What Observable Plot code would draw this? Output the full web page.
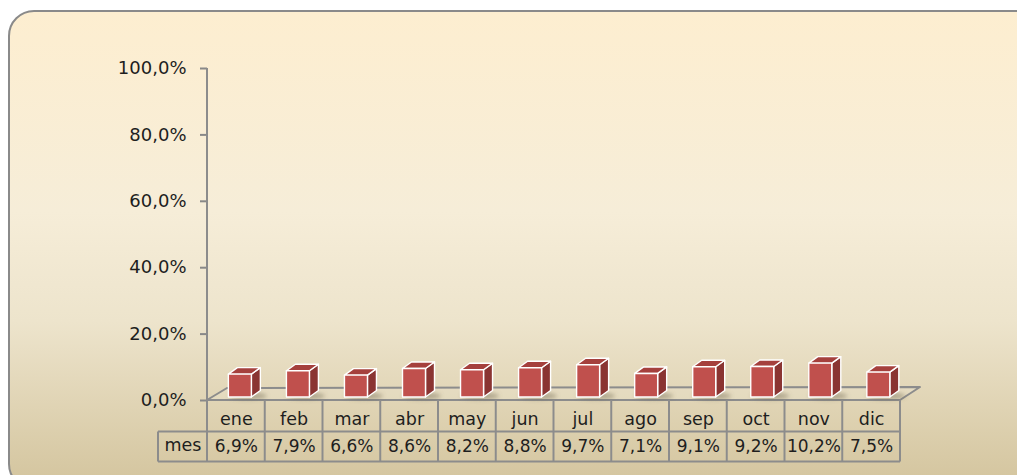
<!DOCTYPE html>
<html><head><meta charset="utf-8">
<script src="https://cdn.jsdelivr.net/npm/d3@7"></script>
<script src="https://cdn.jsdelivr.net/npm/@observablehq/plot@0.6"></script>
<style>
html,body{margin:0;padding:0;width:1017px;height:475px;overflow:hidden;background:#fff;}
#bg{position:absolute;left:8px;top:10px;width:1040px;height:480px;box-sizing:border-box;border:2px solid #8a8a8a;border-radius:26px;
background:linear-gradient(to bottom,#FDEED0 0%,#F6EDD8 42%,#EDE4CC 65%,#D3C49D 100%);}
#chart{position:absolute;left:0;top:0;}
</style></head><body><div id="bg"></div><div id="chart"></div>
<script>
const months = ["ene","feb","mar","abr","may","jun","jul","ago","sep","oct","nov","dic"];
const values = [6.9,7.9,6.6,8.6,8.2,8.8,9.7,7.1,9.1,9.2,10.2,7.5];
const yTicks = [0,20,40,60,80,100];
const rowHeader = "mes";
const fmt = v => v.toFixed(1).replace(".", ",") + "%";
const valueLabels = values.map(fmt);
const rows = months.map((m, i) => ({month: m, value: values[i], label: valueLabels[i]}));

const LINE = "#8c8c8c";

function bw(x) { return x.bandwidth ? x.bandwidth() : 0; }

function floorMark(index, {x, y}) {
  const b = bw(x);
  const x0 = x(months[0]), x1 = x(months[months.length - 1]) + b, y0 = y(0);
  const g = d3.create("svg:g");
  g.append("path")
    .attr("d", `M${x0},${y0}L${x1},${y0}L${x1 + 20},${y0 - 13}L${x0 + 20},${y0 - 12}Z`)
    .attr("fill", "#ffffff").attr("fill-opacity", 0.12)
    .attr("stroke", LINE).attr("stroke-width", 2).attr("stroke-linejoin", "round");
  return g.node();
}

function barsMark(index, {x, y}) {
  const b = bw(x);
  const y0 = y(0) - 3, w = 23, dx = 9, dy = 6.5;
  const g = d3.create("svg:g");
  const defs = g.append("defs");
  defs.append("filter").attr("id", "shblur").attr("x", "-50%").attr("y", "-200%").attr("width", "200%").attr("height", "500%")
    .append("feGaussianBlur").attr("stdDeviation", 2.2);
  rows.forEach((d, i) => {
    const xl = x(d.month) + b / 2 - w / 2 + 4 + 3.2 * i / (months.length - 1);
    const yt = y(d.value) - 3;
    g.append("ellipse").attr("cx", xl + w / 2 + 8).attr("cy", y0 - 1).attr("rx", 19).attr("ry", 3.5)
      .attr("fill", "#6e6650").attr("fill-opacity", 0.45).attr("filter", "url(#shblur)");
    const faces = [
      {d: `M${xl + w},${y0}V${yt}L${xl + w + dx},${yt - dy}V${y0 - dy}Z`, f: "#8A3432"},
      {d: `M${xl},${yt}L${xl + dx},${yt - dy}H${xl + w + dx}L${xl + w},${yt}Z`, f: "#A5403D"},
      {d: `M${xl},${y0}V${yt}H${xl + w}V${y0}Z`, f: "#C0504D"}
    ];
    faces.forEach(fc => g.append("path").attr("d", fc.d).attr("fill", fc.f)
      .attr("stroke", "#ffffff").attr("stroke-width", 1.4).attr("stroke-linejoin", "round"));
  });
  return g.node();
}

function tableMark(index, {x, y}) {
  const b = bw(x);
  const x0 = x(months[0]), x1 = x(months[months.length - 1]) + b;
  const y0 = y(0), r1 = y0 + 31.5, r2 = y0 + 61.5;
  const g = d3.create("svg:g").attr("stroke", LINE).attr("stroke-width", 2).attr("fill", "none");
  g.append("line").attr("x1", x0).attr("x2", x0).attr("y1", y(100)).attr("y2", r2);
  months.forEach((m, i) => {
    if (i === 0) return;
    g.append("line").attr("x1", x(m)).attr("x2", x(m)).attr("y1", y0).attr("y2", r2);
  });
  g.append("line").attr("x1", x1).attr("x2", x1).attr("y1", y0).attr("y2", r2);
  g.append("line").attr("x1", x0 - 49).attr("x2", x1).attr("y1", r1).attr("y2", r1);
  g.append("line").attr("x1", x0 - 49).attr("x2", x1).attr("y1", r2).attr("y2", r2);
  g.append("line").attr("x1", x0 - 49).attr("x2", x0 - 49).attr("y1", r1).attr("y2", r2);
  return g.node();
}

const chart = Plot.plot({
  width: 1017,
  height: 475,
  marginLeft: 207,
  marginRight: 117,
  marginTop: 68,
  marginBottom: 75,
  style: {background: "transparent", fontFamily: "'DejaVu Sans', sans-serif", color: "#1e1e1e", overflow: "visible"},
  x: {type: "band", domain: months, padding: 0, align: 0.5, round: false, axis: null},
  y: {domain: [0, 100], axis: null},
  marks: [
    floorMark,
    barsMark,
    Plot.axisY(yTicks, {tickSize: 7, tickPadding: 14, tickFormat: fmt, fontSize: 18, stroke: "#888888", strokeWidth: 2, fill: "#1e1e1e"}),
    tableMark,
    Plot.text(rows, {x: "month", text: "month", frameAnchor: "bottom", dy: 24, fontSize: 17.5, fill: "#1e1e1e"}),
    Plot.text(rows, {x: "month", text: "label", frameAnchor: "bottom", dy: 51, fontSize: 17, fill: "#1e1e1e"}),
    Plot.text([rowHeader], {text: d => d, frameAnchor: "bottom-left", textAnchor: "middle", dx: -24.5, dy: 50, fontSize: 17.5, fill: "#1e1e1e"})
  ]
});
document.getElementById("chart").appendChild(chart);
</script>
</body></html>
